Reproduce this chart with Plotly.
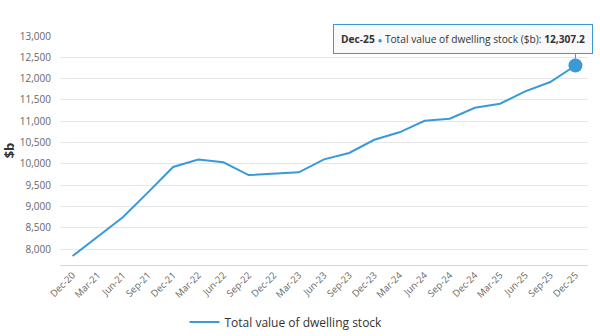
import plotly.graph_objects as go

quarters = ["Dec-20", "Mar-21", "Jun-21", "Sep-21", "Dec-21", "Mar-22", "Jun-22",
            "Sep-22", "Dec-22", "Mar-23", "Jun-23", "Sep-23", "Dec-23", "Mar-24",
            "Jun-24", "Sep-24", "Dec-24", "Mar-25", "Jun-25", "Sep-25", "Dec-25"]
values = [7835, 8300, 8745, 9330, 9925, 10100, 10035, 9735, 9775, 9800, 10105,
          10255, 10565, 10740, 11010, 11060, 11315, 11410, 11700, 11920, 12307.2]
y_ticks = [8000, 8500, 9000, 9500, 10000, 10500, 11000, 11500, 12000, 12500, 13000]
series_name = "Total value of dwelling stock"

LINE = "#3a9ad8"
FONT = "Open Sans"

x_idx = list(range(len(quarters)))

fig = go.Figure()
fig.add_trace(go.Scatter(
    x=x_idx, y=values, mode="lines", name=series_name,
    line=dict(color=LINE, width=2), hoverinfo="skip",
))
fig.add_trace(go.Scatter(
    x=[x_idx[-1]], y=[values[-1]], mode="markers", showlegend=False,
    marker=dict(color=LINE, size=14), hoverinfo="skip",
))

# tooltip
fig.add_annotation(
    x=x_idx[-1], y=values[-1], xref="x", yref="y",
    text=(f"<b>{quarters[-1]}</b> <span style='color:{LINE};font-size:8px'>●</span> "
          f"{series_name} ($b): <b>{values[-1]:,.1f}</b>"),
    showarrow=False, xanchor="right", yanchor="bottom",
    xshift=18, yshift=12,
    bgcolor="rgba(249,249,249,0.95)", bordercolor=LINE, borderwidth=1, borderpad=7,
    font=dict(family=FONT, size=10.2, color="#333333"),
)
fig.add_annotation(
    x=x_idx[-1], y=values[-1], xref="x", yref="y",
    ax=0, ay=-13, axref="pixel", ayref="pixel",
    showarrow=True, arrowhead=0, arrowwidth=1, arrowcolor=LINE, text="",
)

fig.update_layout(
    width=600, height=336,
    margin=dict(l=60, r=12, t=36, b=71),
    paper_bgcolor="white", plot_bgcolor="white",
    font=dict(family=FONT, color="#666666"),
    showlegend=True,
    legend=dict(orientation="h", x=0.428, xanchor="center",
                yref="container", y=0.042, yanchor="middle",
                font=dict(family=FONT, size=12, color="#333333"),
                itemwidth=30, bgcolor="rgba(0,0,0,0)"),
    xaxis=dict(
        range=[-0.5, len(quarters) - 0.5],
        tickmode="array", tickvals=x_idx, ticktext=quarters,
        tickangle=-45, tickfont=dict(size=9.5, color="#666666"),
        showgrid=False, zeroline=False,
        showline=True, linecolor="#ccd6eb", linewidth=1,
        ticks="", fixedrange=True, automargin=False,
    ),
    yaxis=dict(
        range=[7625, 13000],
        tickmode="array", tickvals=y_ticks,
        ticktext=[f"{v:,}" for v in y_ticks],
        tickfont=dict(size=10, color="#666666"),
        showgrid=True, gridcolor="#e6e6e6", gridwidth=1,
        zeroline=False, showline=False, ticks="", ticklabelstandoff=8,
        automargin=False,
        title=dict(text="$b", font=dict(size=13, color="#333333", weight="bold"), standoff=13),
    ),
)

fig.write_html("out.html")
